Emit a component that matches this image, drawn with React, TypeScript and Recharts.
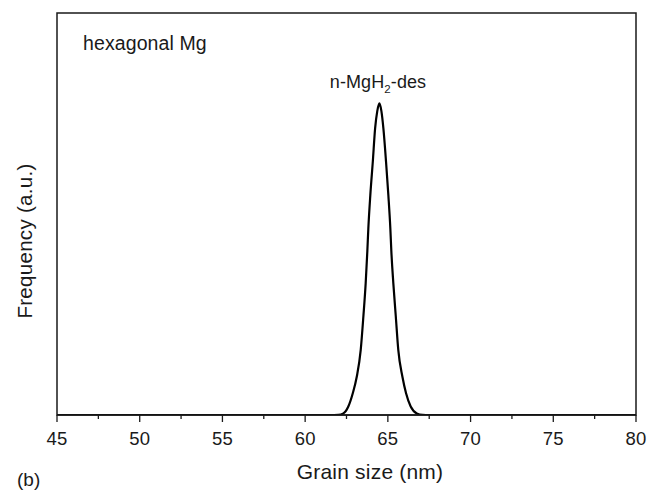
import React from 'react';
import { LineChart, Line, XAxis, YAxis, ReferenceArea } from 'recharts';

const grainSize = [45, 61.5, 62.0, 62.31, 62.61, 62.88, 63.12, 63.36, 63.52, 63.66, 63.76, 63.82, 63.94, 64.09, 64.23, 64.36, 64.49, 64.61, 64.73, 64.89, 65.03, 65.15, 65.21, 65.33, 65.48, 65.63, 65.88, 66.1, 66.38, 66.75, 67.1, 67.5, 80];
const frequency = [0, 0, 0.05, 0.4, 2.1, 5.4, 9.5, 16.2, 24.5, 32.8, 40.8, 46.4, 54.7, 63.0, 71.3, 75.6, 77.5, 75.6, 71.3, 63.0, 54.7, 46.4, 40.8, 32.8, 24.5, 16.2, 9.5, 5.4, 2.1, 0.4, 0.05, 0, 0];
const xTicks = [45, 47.5, 50, 52.5, 55, 57.5, 60, 62.5, 65, 67.5, 70, 72.5, 75, 77.5, 80];

const data = grainSize.map((x, i) => ({ x, y: frequency[i] }));

const FONT = '"Liberation Sans", Arial, Helvetica, sans-serif';
const INK = '#1a1a1a';

const Tick = (props: any) => {
  const { x, y, payload } = props;
  const major = Math.abs(payload.value % 5) < 1e-6;
  return (
    <g>
      <line x1={x} y1={y} x2={x} y2={y + (major ? 7 : 4)} stroke={INK} strokeWidth={1.3} />
      {major && (
        <text x={x} y={y + 30} textAnchor="middle" fontFamily={FONT} fontSize={18.5} letterSpacing={0.2} fill={INK}>
          {payload.value}
        </text>
      )}
    </g>
  );
};

export default function App() {
  return (
    <div style={{ position: 'absolute', left: 0, top: 0, width: 655, height: 492, background: '#fff' }}>
      <LineChart width={655} height={492} data={data} margin={{ top: 13, right: 19, bottom: 0, left: 57 }}>
        <XAxis
          dataKey="x"
          type="number"
          domain={[45, 80]}
          ticks={xTicks}
          interval={0}
          height={77}
          tickLine={false}
          tickSize={0}
          tickMargin={0}
          tick={<Tick />}
          axisLine={{ stroke: INK, strokeWidth: 1.5 }}
          allowDataOverflow
        />
        <YAxis hide domain={[0, 100]} type="number" allowDataOverflow />
        <ReferenceArea x1={45} x2={80} y1={0} y2={100} fill="none" stroke={INK} strokeWidth={1.5} ifOverflow="visible" />
        <Line type="monotone" dataKey="y" stroke="#000" strokeWidth={2.2} dot={false} isAnimationActive={false} />
      </LineChart>
      <svg width={655} height={492} style={{ position: 'absolute', left: 0, top: 0, pointerEvents: 'none' }}>
        <text x={83} y={50} fontFamily={FONT} fontSize={19.5} letterSpacing={0.1} fill={INK}>hexagonal Mg</text>
        <text x={378} y={88} textAnchor="middle" fontFamily={FONT} fontSize={18} letterSpacing={0.1} fill={INK}>
          n-MgH<tspan fontSize={11.5} dy={5}>2</tspan><tspan dy={-5}>-des</tspan>
        </text>
        <text x={370} y={479} textAnchor="middle" fontFamily={FONT} fontSize={21} letterSpacing={0.2} fill={INK}>Grain size (nm)</text>
        <text x={32} y={241} textAnchor="middle" fontFamily={FONT} fontSize={20.5} letterSpacing={0.3} fill={INK} transform="rotate(-90 32 241)">Frequency (a.u.)</text>
        <text x={17} y={486} fontFamily={FONT} fontSize={19} fill={INK}>(b)</text>
      </svg>
    </div>
  );
}
